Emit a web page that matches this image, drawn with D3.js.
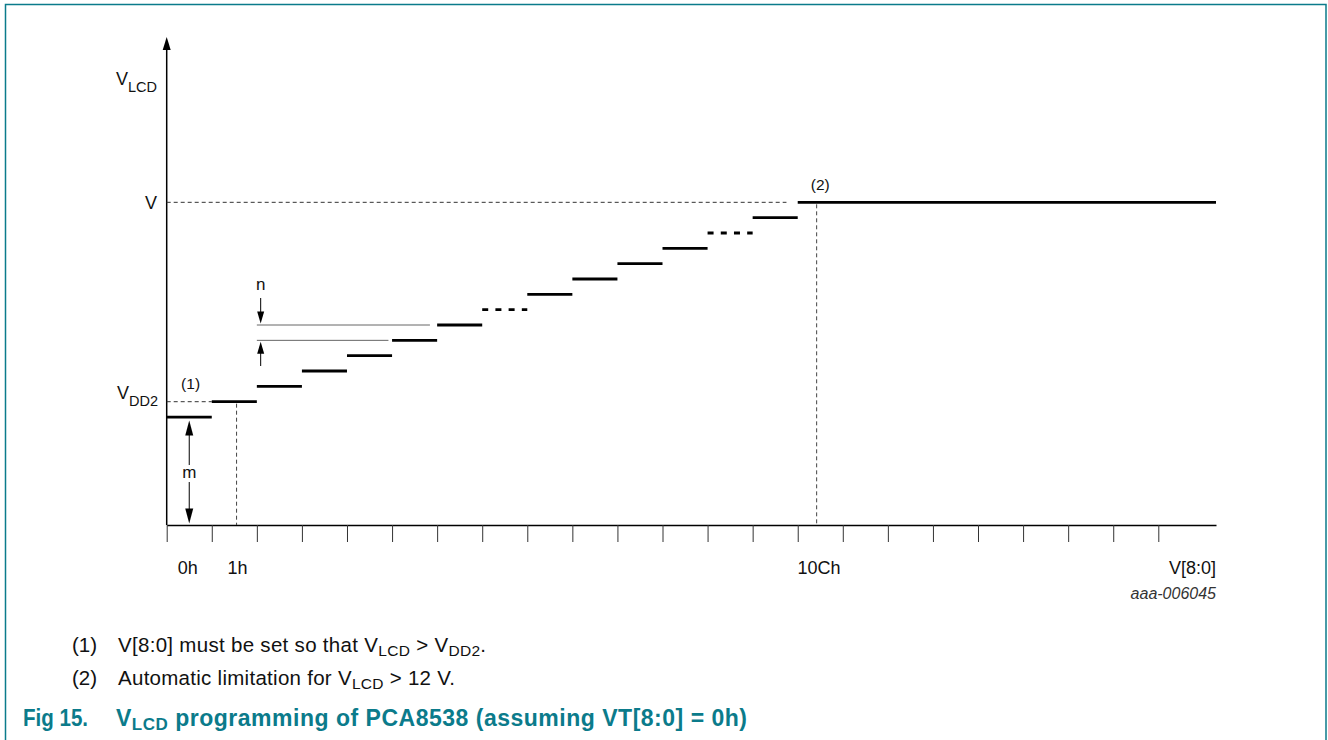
<!DOCTYPE html>
<html lang="en">
<head>
<meta charset="UTF-8">
<title>VLCD programming of PCA8538</title>
<script src="https://d3js.org/d3.v7.min.js"></script>
<style>
  body { margin: 0; background: #fff; }
  svg { display: block; font-family: "Liberation Sans", Arial, Helvetica, sans-serif; }
</style>
</head>
<body>
<svg width="1328" height="740"></svg>
<script>
// V[8:0] slots along the x axis (one tick per register step)
const slots = [0, 1, 2, 3, 4, 5, 6, 7, 8, 9, 10, 11, 12, 13, 14, 15, 16, 17, 18, 19, 20, 21, 22];
// output level of each slot, counted in steps of n above the 0h level
const stepLevels = [0, 1, 2, 3, 4, 5, 6, 7, 8, 9, 10, 11, 12, 13, 14];
const dashedSteps = [7, 12];       // skipped ranges drawn as dashes
const codeLabels = ["0h", "1h", "10Ch"];
const codeSlots = [0.47, 1.57, 14.47];
const guideSlots = [1.55, 14.42];  // dotted drop lines for VDD2 and the limit
const guideLevels = [1, 14];
const axisEnd = 23.28;
const axisFloor = -7.04;           // m, the 0h level above 0 V, in n units
const axisTop = 24.78;

const teal = "#0b7b8b";
const svg = d3.select("svg");

const x = d3.scaleLinear().domain([0, axisEnd]).range([166.7, 1216]);
const y = d3.scaleLinear().domain([axisFloor, axisTop]).range([525, 37]);

// frame around the figure
svg.append("path")
    .attr("d", "M5.5,740V4.5H1326V740")
    .attr("fill", "none")
    .attr("stroke", teal)
    .attr("stroke-width", 1.5);

const g = svg.append("g");

function arrowHead(px, tipY, dir, len, half) {
    // dir = -1 points up, 1 points down
    g.append("path")
        .attr("d", `M${px},${tipY}L${px - half},${tipY - dir * len}L${px + half},${tipY - dir * len}Z`)
        .attr("fill", "#000");
}

// x axis with slot ticks
const xAxis = g.append("g")
    .attr("transform", `translate(0,${y(axisFloor)})`)
    .call(d3.axisBottom(x).tickValues(slots).tickSize(17).tickSizeOuter(0).tickFormat(""));
xAxis.select(".domain").attr("stroke", "#000").attr("stroke-width", 1.5);
xAxis.selectAll(".tick line").attr("stroke", "#333").attr("stroke-width", 1);

// y axis with arrow
g.append("line")
    .attr("x1", x(0)).attr("x2", x(0))
    .attr("y1", y(axisFloor)).attr("y2", y(axisTop) + 10)
    .attr("stroke", "#000").attr("stroke-width", 1.5);
arrowHead(x(0), y(axisTop), -1, 13, 4);

// dashed reference lines
const dash = "4 3";
g.append("line")
    .attr("x1", x(0)).attr("x2", x(1))
    .attr("y1", y(guideLevels[0])).attr("y2", y(guideLevels[0]))
    .attr("stroke", "#333").attr("stroke-dasharray", dash);
g.append("line")
    .attr("x1", x(0)).attr("x2", x(13.75))
    .attr("y1", y(guideLevels[1])).attr("y2", y(guideLevels[1]))
    .attr("stroke", "#333").attr("stroke-dasharray", dash);
g.selectAll(".drop")
    .data(guideSlots)
    .join("line")
    .attr("class", "drop")
    .attr("x1", d => x(d)).attr("x2", d => x(d))
    .attr("y1", (d, i) => y(guideLevels[i]) + 2)
    .attr("y2", y(axisFloor))
    .attr("stroke", "#444").attr("stroke-dasharray", dash);

// thin lines marking one step n
g.append("line")
    .attr("x1", x(2)).attr("x2", x(5.84))
    .attr("y1", y(6)).attr("y2", y(6))
    .attr("stroke", "#666").attr("stroke-width", 1);
g.append("line")
    .attr("x1", x(2)).attr("x2", x(4.92))
    .attr("y1", y(5)).attr("y2", y(5))
    .attr("stroke", "#666").attr("stroke-width", 1);

// the staircase
const last = stepLevels.length - 1;
g.selectAll(".step")
    .data(stepLevels)
    .join("line")
    .attr("class", "step")
    .attr("x1", (d, i) => x(i))
    .attr("x2", (d, i) => i === last ? x(axisEnd) : x(i + 1))
    .attr("y1", d => y(d))
    .attr("y2", d => y(d))
    .attr("stroke", "#000")
    .attr("stroke-width", 2.8)
    .attr("stroke-dasharray", (d, i) => dashedSteps.includes(i) ? "6 7.2" : null);

// n arrows
const nx = x(2.085);
g.append("line").attr("x1", nx).attr("x2", nx).attr("y1", 298).attr("y2", y(6) - 10)
    .attr("stroke", "#000");
arrowHead(nx, y(6) - 1.5, 1, 12, 3.5);
g.append("line").attr("x1", nx).attr("x2", nx).attr("y1", y(5) + 10).attr("y2", 366)
    .attr("stroke", "#000");
arrowHead(nx, y(5) + 1.5, -1, 12, 3.5);

// m arrow
const mx = x(0.5);
const mMid = (y(0) + y(axisFloor)) / 2;
g.append("line").attr("x1", mx).attr("x2", mx).attr("y1", y(0) + 12).attr("y2", mMid - 6)
    .attr("stroke", "#000");
g.append("line").attr("x1", mx).attr("x2", mx).attr("y1", mMid + 11).attr("y2", y(axisFloor) - 12)
    .attr("stroke", "#000");
arrowHead(mx, y(0) + 3.5, -1, 15, 4);
arrowHead(mx, y(axisFloor) - 1.5, 1, 15, 4);

const label = (px, py, txt, size, anchor) => g.append("text")
    .attr("x", px).attr("y", py)
    .attr("font-size", size)
    .attr("text-anchor", anchor || "middle")
    .attr("fill", "#111")
    .text(txt);

label(mx, mMid + 7, "m", 17);
label(nx, 290, "n", 17);
label(x(0.53), y(1) - 13, "(1)", 15.5);
label(x(14.5), y(14) - 12, "(2)", 15.5);

// axis labels with subscripts
function subLabel(px, py, main, sub, size, subSize, anchor) {
    const t = g.append("text")
        .attr("x", px).attr("y", py)
        .attr("font-size", size)
        .attr("text-anchor", anchor)
        .attr("fill", "#111");
    t.append("tspan").text(main);
    if (sub) t.append("tspan").attr("dy", 7).attr("font-size", subSize).text(sub);
    return t;
}
subLabel(157, 85, "V", "LCD", 18, 14.5, "end");
subLabel(157, y(14) + 6.5, "V", null, 18, 14.5, "end");
subLabel(158, y(1) - 3, "V", "DD2", 18, 14.5, "end");

// code labels under the axis
g.selectAll(".code")
    .data(codeLabels)
    .join("text")
    .attr("class", "code")
    .attr("x", (d, i) => x(codeSlots[i]))
    .attr("y", 574)
    .attr("font-size", 18)
    .attr("text-anchor", "middle")
    .attr("fill", "#111")
    .text(d => d);
label(x(axisEnd), 574, "V[8:0]", 18, "end");
label(x(axisEnd), 599, "aaa-006045", 16, "end")
    .attr("font-style", "italic").attr("fill", "#333");

// notes
const notes = svg.append("g").attr("font-size", 20.5).attr("fill", "#111");
function note(py, num, parts, width) {
    notes.append("text").attr("x", 72).attr("y", py).attr("textLength", 25).text(num);
    const t = notes.append("text").attr("x", 118).attr("y", py).attr("textLength", width);
    parts.forEach(p => {
        const s = t.append("tspan").text(p[0]);
        if (p[1] === "sub") s.attr("font-size", 15.5).attr("dy", 4);
        if (p[1] === "up") s.attr("dy", -4);
    });
}
note(652, "(1)", [["V[8:0] must be set so that V"], ["LCD", "sub"], [" > V", "up"], ["DD2", "sub"], [".", "up"]], 368);
note(685, "(2)", [["Automatic limitation for V"], ["LCD", "sub"], [" > 12 V.", "up"]], 337);

// caption
const cap = svg.append("g").attr("font-weight", "bold").attr("fill", teal).attr("font-size", 23);
cap.append("text").attr("x", 23).attr("y", 725.5)
    .attr("textLength", 65).attr("lengthAdjust", "spacingAndGlyphs").text("Fig 15.");
const ct = cap.append("text").attr("x", 116).attr("y", 725.5).attr("textLength", 631);
ct.append("tspan").text("V");
ct.append("tspan").attr("font-size", 17).attr("dy", 4.5).text("LCD");
ct.append("tspan").attr("dy", -4.5).text(" programming of PCA8538 (assuming VT[8:0] = 0h)");
</script>
</body>
</html>
